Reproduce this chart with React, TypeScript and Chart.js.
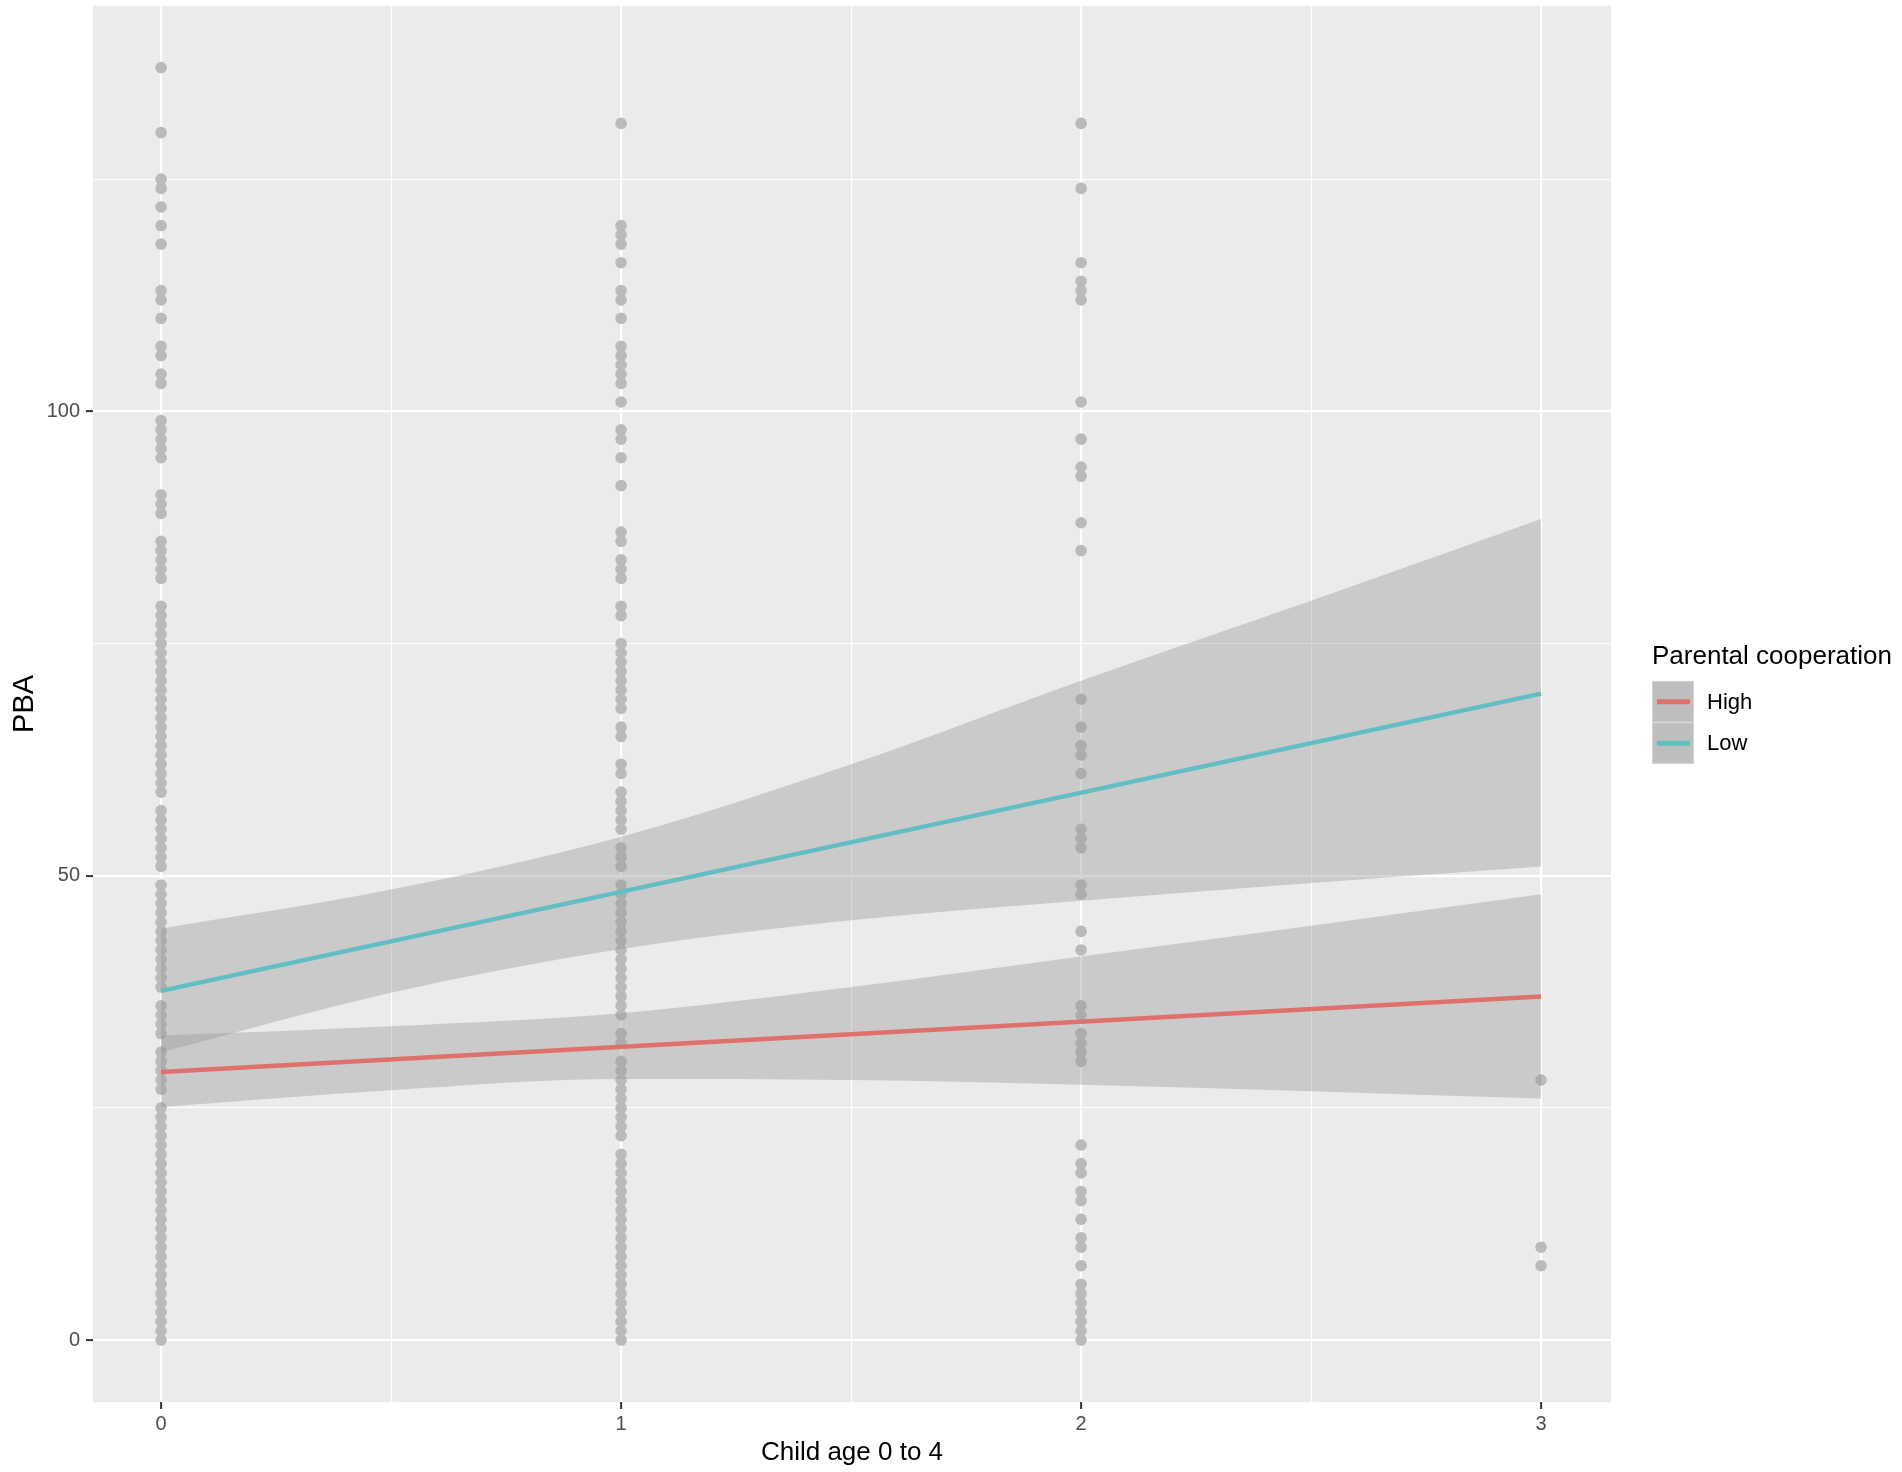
import React, { useEffect, useRef } from 'react';
import { Chart, registerables } from 'chart.js';

Chart.register(...registerables);
Chart.defaults.font.family = '"Liberation Sans", Arial, Helvetica, sans-serif';

// observed PBA scores per child age group
const pbaAge0 = [
  0, 1, 2, 3, 4, 5, 6, 7, 8, 9, 10, 11, 12, 13, 14, 15, 16, 17, 18, 19, 20, 21, 22, 23, 24, 25,
  27, 28, 29, 30, 31, 33, 34, 35, 36,
  38, 39, 40, 41, 42, 43, 44, 45, 46, 47, 48, 49,
  51, 52, 53, 54, 55, 56, 57,
  59, 60, 61, 62, 63, 64, 65, 66, 67, 68, 69, 70, 71, 72, 73, 74, 75, 76, 77, 78, 79,
  82, 83, 84, 85, 86, 89, 90, 91, 95, 96, 97, 98, 99,
  103, 104, 106, 107, 110, 112, 113, 118, 120, 122, 124, 125, 130, 137,
];
const pbaAge1 = [
  0, 1, 2, 3, 4, 5, 6, 7, 8, 9, 10, 11, 12, 13, 14, 15, 16, 17, 18, 19, 20,
  22, 23, 24, 25, 26, 27, 28, 29, 30, 32, 33,
  35, 36, 37, 38, 39, 40, 41, 42, 43, 44, 45, 46, 47, 48, 49,
  51, 52, 53, 55, 56, 57, 58, 59, 61, 62, 65, 66,
  68, 69, 70, 71, 72, 73, 74, 75, 78, 79, 82, 83, 84, 86, 87,
  92, 95, 97, 98, 101, 103, 104, 105, 106, 107, 110, 112, 113, 116, 118, 119, 120, 131,
];
const pbaAge2 = [
  0, 1, 2, 3, 4, 5, 6, 8, 10, 11, 13, 15, 16, 18, 19, 21,
  30, 31, 32, 33, 35, 36, 42, 44, 48, 49, 53, 54, 55,
  61, 63, 64, 66, 69, 85, 88, 93, 94, 97, 101,
  112, 113, 114, 116, 124, 131,
];
const pbaAge3 = [8, 10, 28];
const ageGroups = [0, 1, 2, 3];

// fitted lines and 95% bands by parental cooperation
const fitAges = [0, 3];
const fitHigh = [28.85, 37.0];
const fitLow = [37.6, 69.6];
const bandAges = [0, 0.5, 1, 1.5, 2, 2.5, 3];
const highUpper = [32.8, 33.8, 35.2, 38.0, 41.3, 44.6, 48.0];
const highLower = [25.1, 26.9, 28.1, 28.0, 27.5, 26.8, 26.0];
const lowUpper = [44.3, 48.5, 54.2, 62.0, 71.0, 79.6, 88.4];
const lowLower = [31.0, 37.4, 42.1, 45.2, 47.3, 49.2, 51.0];

const legendLabels = ['High', 'Low'];
const seriesColors = ['#DE716B', '#62BEC3'];

const xTicks = [0, 0.5, 1, 1.5, 2, 2.5, 3];
const xTickLabels = ['0', '', '1', '', '2', '', '3'];
const yTicks = [0, 25, 50, 75, 100, 125];
const yTickLabels = ['0', '', '50', '', '100', ''];

const panelBackground = {
  id: 'panelBackground',
  beforeDraw(chart: any) {
    const { ctx, chartArea: a } = chart;
    ctx.save();
    ctx.fillStyle = '#EBEBEB';
    ctx.fillRect(a.left, a.top, a.right - a.left, a.bottom - a.top);
    ctx.restore();
  },
};

const cooperationLegend = {
  id: 'cooperationLegend',
  afterDraw(chart: any) {
    const { ctx, chartArea: a } = chart;
    const left = a.right + 41;
    const mid = (a.top + a.bottom) / 2;
    const keySize = 41.5;
    const keyTop = mid - 23;
    ctx.save();
    ctx.fillStyle = '#000000';
    ctx.font = '26px "Liberation Sans", Arial, sans-serif';
    ctx.textBaseline = 'alphabetic';
    ctx.textAlign = 'left';
    ctx.fillText('Parental cooperation', left, keyTop - 17);

    legendLabels.forEach((label, i) => {
      const y = keyTop + i * keySize;
      ctx.fillStyle = '#BEBEBE';
      ctx.fillRect(left, y, 42, keySize);
      ctx.strokeStyle = 'rgba(255,255,255,0.35)';
      ctx.lineWidth = 1;
      ctx.strokeRect(left + 0.5, y + 0.5, 41, keySize - 1);
      ctx.strokeStyle = seriesColors[i];
      ctx.lineWidth = 5;
      ctx.beginPath();
      ctx.moveTo(left + 5, y + keySize / 2);
      ctx.lineTo(left + 38, y + keySize / 2);
      ctx.stroke();
      ctx.fillStyle = '#000000';
      ctx.font = '22px "Liberation Sans", Arial, sans-serif';
      ctx.textBaseline = 'middle';
      ctx.fillText(label, left + 55, y + keySize / 2 + 1);
    });
    ctx.restore();
  },
};

const bandStyle = {
  borderWidth: 0,
  pointRadius: 0,
  backgroundColor: 'rgba(153,153,153,0.4)',
  cubicInterpolationMode: 'monotone' as const,
  order: 5,
};

const PbaChart: React.FC = () => {
  const canvasRef = useRef<HTMLCanvasElement>(null);
  const chartRef = useRef<Chart | null>(null);

  useEffect(() => {
    if (!canvasRef.current) return;
    const ctx = canvasRef.current.getContext('2d');
    if (!ctx) return;

    const points = [pbaAge0, pbaAge1, pbaAge2, pbaAge3].flatMap((vals, i) =>
      vals.map((v) => ({ x: ageGroups[i], y: v }))
    );
    const band = (ys: number[]) => bandAges.map((x, i) => ({ x, y: ys[i] }));
    const fit = (ys: number[]) => fitAges.map((x, i) => ({ x, y: ys[i] }));

    chartRef.current = new Chart(ctx, {
      type: 'line',
      data: {
        datasets: [
          {
            label: 'PBA',
            data: points,
            showLine: false,
            pointRadius: 5.8,
            pointBorderWidth: 0,
            pointBackgroundColor: '#BABABA',
            order: 10,
          },
          { label: 'High upper', data: band(highUpper), fill: '+1', ...bandStyle },
          { label: 'High lower', data: band(highLower), fill: false, ...bandStyle },
          { label: 'Low upper', data: band(lowUpper), fill: '+1', ...bandStyle },
          { label: 'Low lower', data: band(lowLower), fill: false, ...bandStyle },
          {
            label: legendLabels[0],
            data: fit(fitHigh),
            borderColor: seriesColors[0],
            borderWidth: 4.5,
            pointRadius: 0,
            fill: false,
            order: 1,
          },
          {
            label: legendLabels[1],
            data: fit(fitLow),
            borderColor: seriesColors[1],
            borderWidth: 4.5,
            pointRadius: 0,
            fill: false,
            order: 1,
          },
        ],
      } as any,
      options: {
        animation: false,
        responsive: true,
        maintainAspectRatio: false,
        events: [],
        layout: { padding: { top: 4, right: 291, left: 0, bottom: 0 } },
        scales: {
          x: {
            type: 'linear',
            min: -0.148,
            max: 3.152,
            afterBuildTicks: (s: any) => {
              s.ticks = xTicks.map((v) => ({ value: v }));
            },
            afterFit: (s: any) => {
              s.height = 70;
              s.paddingLeft = 0;
              s.paddingRight = 0;
            },
            border: { display: false },
            grid: {
              color: '#FFFFFF',
              lineWidth: (c: any) => (xTickLabels[c.index] ? 2.2 : 1.1),
              tickLength: 7,
              tickWidth: 2,
              tickColor: (c: any) => (xTickLabels[c.index] ? '#333333' : 'rgba(0,0,0,0)'),
            },
            ticks: {
              autoSkip: false,
              maxRotation: 0,
              padding: 3,
              color: '#4D4D4D',
              font: { size: 20 },
              callback: (_v: any, i: number) => xTickLabels[i],
            },
            title: {
              display: true,
              text: 'Child age 0 to 4',
              color: '#000000',
              font: { size: 26 },
              padding: { top: 0, bottom: 4 },
            },
          },
          y: {
            type: 'linear',
            min: -6.67,
            max: 143.66,
            afterBuildTicks: (s: any) => {
              s.ticks = yTicks.map((v) => ({ value: v }));
            },
            afterFit: (s: any) => {
              s.width = 93;
              s.paddingTop = 0;
              s.paddingBottom = 0;
            },
            border: { display: false },
            grid: {
              color: '#FFFFFF',
              lineWidth: (c: any) => (yTickLabels[c.index] ? 2.2 : 1.1),
              tickLength: 7,
              tickWidth: 2,
              tickColor: (c: any) => (yTickLabels[c.index] ? '#333333' : 'rgba(0,0,0,0)'),
            },
            ticks: {
              autoSkip: false,
              padding: 6,
              color: '#4D4D4D',
              font: { size: 20 },
              callback: (_v: any, i: number) => yTickLabels[i],
            },
            title: {
              display: true,
              text: 'PBA',
              color: '#000000',
              font: { size: 29 },
              padding: { top: 8, bottom: 0 },
            },
          },
        },
        plugins: {
          legend: { display: false },
          tooltip: { enabled: false },
        },
      },
      plugins: [panelBackground, cooperationLegend],
    });

    return () => chartRef.current?.destroy();
  }, []);

  return (
    <div style={{ position: 'absolute', left: 0, top: 0, width: 1902, height: 1472, background: '#FFFFFF' }}>
      <canvas ref={canvasRef} />
    </div>
  );
};

export default function App() {
  return <PbaChart />;
}
